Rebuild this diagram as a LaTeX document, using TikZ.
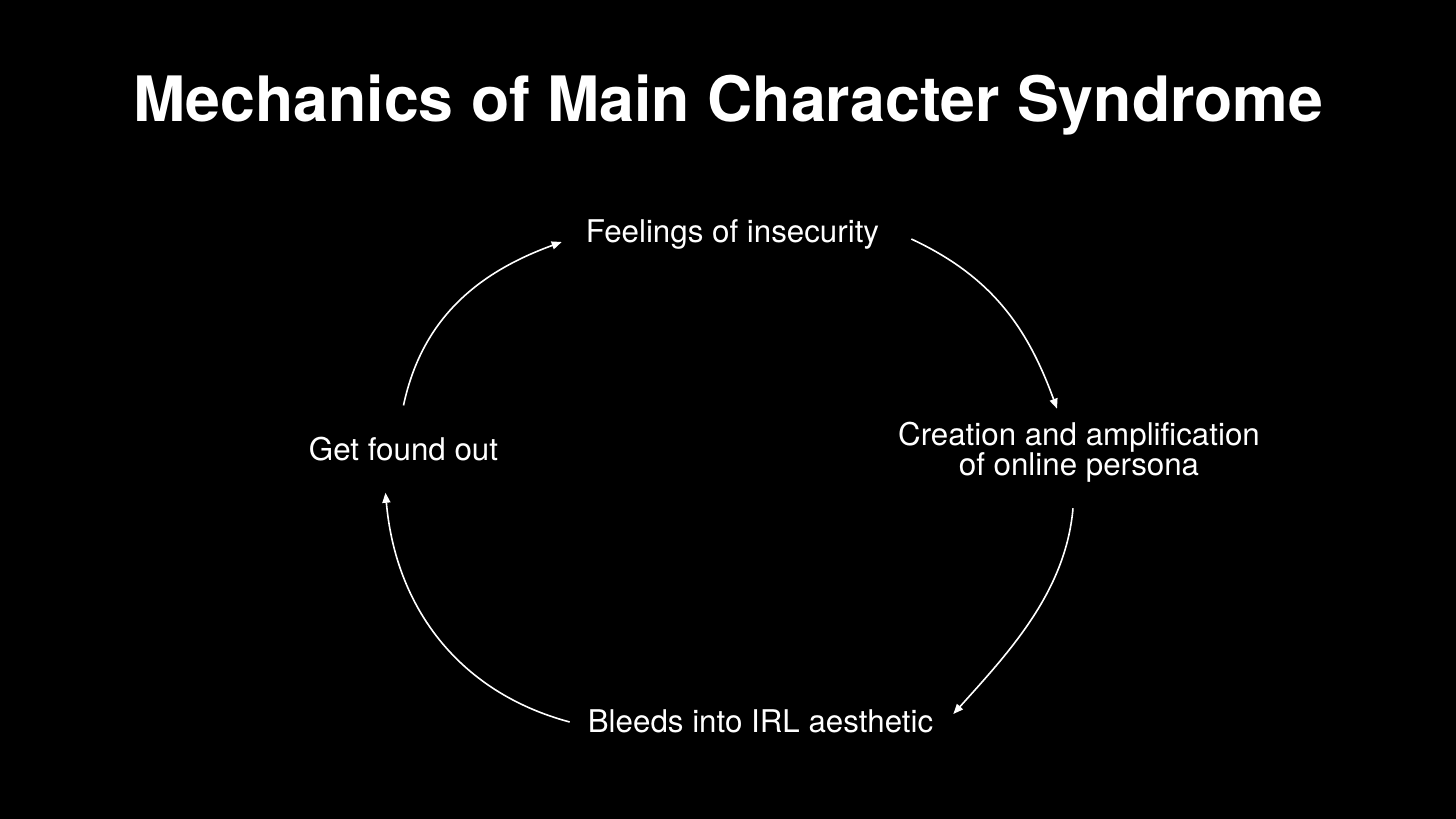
\documentclass[tikz,border=0pt]{standalone}
\usepackage{fontspec}
\setmainfont{TeX Gyre Heros}
\usetikzlibrary{arrows.meta}

\tikzstyle{titlePart} = [text=white, inner sep=0pt, font=\bfseries\fontsize{62.6}{70}\selectfont]
\tikzstyle{stagePart} = [text=white, inner sep=0pt, align=center, font=\fontsize{31.3}{30}\selectfont]
\tikzstyle{cycleArrow} = [draw=white, line width=1.6pt, -{Triangle[length=10pt, width=8pt]}]

\begin{document}
\begin{tikzpicture}[x=1pt, y=1pt]
		\fill[black] (0,0) rectangle (1456,819);
		\useasboundingbox (0,0) rectangle (1456,819);

		\node (title) [titlePart, anchor=base] at (728.5,697) {Mechanics of Main Character Syndrome};

		% The four stages of the cycle
		\path (title.base)+(4,-121) node (feelings) [stagePart, anchor=base] {Feelings of insecurity};
		\path (title.base)+(350.5,-330) node (creation) [stagePart] {Creation and amplification\\of online persona};
		\path (title.base)+(32,-611) node (bleeds) [stagePart, anchor=base] {Bleeds into IRL aesthetic};
		\path (title.base)+(-325,-339) node (foundOut) [stagePart, anchor=base] {Get found out};

		% Arrows round the cycle
		\path [cycleArrow] ([shift={(0,32)}]foundOut.north) to[out=78, in=200] ([shift={(-24,1)}]feelings.base west);
		\path [cycleArrow] ([shift={(32,4)}]feelings.base east) to[out=-25, in=110] ([shift={(-22,13)}]creation.north);
		\path [cycleArrow] ([shift={(-6,-26)}]creation.south) to[out=-95, in=48, looseness=0.9] ([shift={(20,19)}]bleeds.base east);
		\path [cycleArrow] ([shift={(-18,11)}]bleeds.base west) to[out=165, in=-85] ([shift={(-18,-31)}]foundOut.south);
\end{tikzpicture}
\end{document}
